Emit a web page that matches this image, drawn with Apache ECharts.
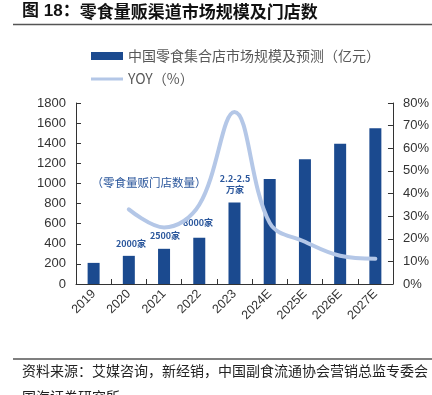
<!DOCTYPE html>
<html>
<head>
<meta charset="utf-8">
<script src="https://cdn.jsdelivr.net/npm/echarts@6/dist/echarts.min.js"></script>
<style>
html,body{margin:0;padding:0;background:#fff;}
#main{width:432px;height:395px;}
</style>
</head>
<body>
<div id="main"></div>
<script>
const categories = ['2019','2020','2021','2022','2023','2024E','2025E','2026E','2027E'];
const marketSize = [210, 280, 350, 460, 810, 1045, 1240, 1395, 1550];
const yoy = [null, 33, 25, 35, 76, 27, 18.7, 12.5, 11.2];
const leftTicks = {min: 0, max: 1800, interval: 200};
const rightTicks = {min: 0, max: 80, interval: 10};
const storeNotes = [
  {text: '2000家', x: 131, y: 244},
  {text: '2500家', x: 165, y: 236},
  {text: '8000家', x: 198, y: 223},
  {text: '2.2-2.5', x: 235, y: 179},
  {text: '万家', x: 235, y: 190}
];

const FONT = '"Noto Sans CJK SC", "Noto Sans", sans-serif';
const chart = echarts.init(document.getElementById('main'), null, {renderer: 'canvas'});
const axisColor = '#333';
const lineIcon = 'path://M0,0L0.01,0L0,0.01Z M0,2.6L32,2.6L32,5.4L0,5.4Z M32,8L31.99,8L32,7.99Z';
const option = {
  animation: false,
  backgroundColor: '#fff',
  grid: {left: 76, right: 38, top: 103, bottom: 111, containLabel: false},
  legend: {
    orient: 'vertical', left: 86, top: 44,
    itemWidth: 32, itemHeight: 8, itemGap: 9,
    textStyle: {fontSize: 14, color: '#595959', fontFamily: FONT},
    data: [
      {name: '中国零食集合店市场规模及预测（亿元）', icon: 'rect'},
      {name: 'YOY（%）', icon: lineIcon, itemStyle: {color: '#b4c7e7'}}
    ]
  },
  xAxis: {
    type: 'category', data: categories,
    axisLine: {lineStyle: {color: axisColor, width: 1}},
    axisTick: {show: true, inside: true, length: 5, alignWithLabel: false, lineStyle: {color: axisColor}},
    axisLabel: {rotate: 45, fontSize: 12.5, color: '#333', fontFamily: 'Liberation Sans, Arial', margin: 8, interval: 0}
  },
  yAxis: [
    {
      type: 'value', min: leftTicks.min, max: leftTicks.max, interval: leftTicks.interval,
      axisLine: {show: true, lineStyle: {color: axisColor}},
      axisTick: {show: true, inside: true, length: 5, lineStyle: {color: axisColor}},
      axisLabel: {fontSize: 13, color: '#333', fontFamily: 'Liberation Sans, Arial', margin: 10, formatter: v => String(v)},
      splitLine: {show: false}
    },
    {
      type: 'value', min: rightTicks.min, max: rightTicks.max, interval: rightTicks.interval,
      position: 'right',
      axisLine: {show: true, lineStyle: {color: axisColor}},
      axisTick: {show: true, inside: true, length: 5, lineStyle: {color: axisColor}},
      axisLabel: {fontSize: 13, color: '#333', fontFamily: 'Liberation Sans, Arial', margin: 10, formatter: '{value}%'},
      splitLine: {show: false}
    }
  ],
  series: [
    {
      name: '中国零食集合店市场规模及预测（亿元）', type: 'bar', data: marketSize,
      barWidth: 12, itemStyle: {color: '#1b4a8f'}
    },
    {
      name: 'YOY（%）', type: 'line', yAxisIndex: 1, data: yoy,
      smooth: 0.38, symbol: 'none', connectNulls: false,
      lineStyle: {color: '#b4c7e7', width: 4, cap: 'round'},
      itemStyle: {color: '#b4c7e7'}
    }
  ],
  graphic: [
    {type: 'text', left: 22, top: 3, style: {
      text: '{a|图 18：}{b|零食量贩渠道市场规模及门店数}',
      rich: {
        a: {font: 'bold 17px "Liberation Sans", ' + FONT, fill: '#111'},
        b: {font: 'bold 17px ' + FONT, fill: '#111'}
      }
    }},
    {type: 'line', shape: {x1: 13, y1: 24.5, x2: 432, y2: 24.5}, style: {stroke: '#555', lineWidth: 1.5}},
    {type: 'line', shape: {x1: 13, y1: 359, x2: 432, y2: 359}, style: {stroke: '#555', lineWidth: 1.5}},
    {type: 'text', left: 22, top: 364, style: {text: '资料来源：艾媒咨询，新经销，中国副食流通协会营销总监专委会', font: '14px ' + FONT, fill: '#222'}},
    {type: 'text', left: 22, top: 390, style: {text: '国海证券研究所', font: '14px ' + FONT, fill: '#222'}},
    {type: 'text', x: 149, y: 183, style: {text: '（零食量贩门店数量）', font: '11.5px ' + FONT, fill: '#2b579c', align: 'center', verticalAlign: 'middle'}}
  ].concat(storeNotes.map(n => ({
    type: 'text', x: n.x, y: n.y,
    style: {text: n.text, font: 'bold 9px ' + FONT, fill: '#2b579c', align: 'center', verticalAlign: 'middle'}
  })))
};
chart.setOption(option);
</script>
</body>
</html>
